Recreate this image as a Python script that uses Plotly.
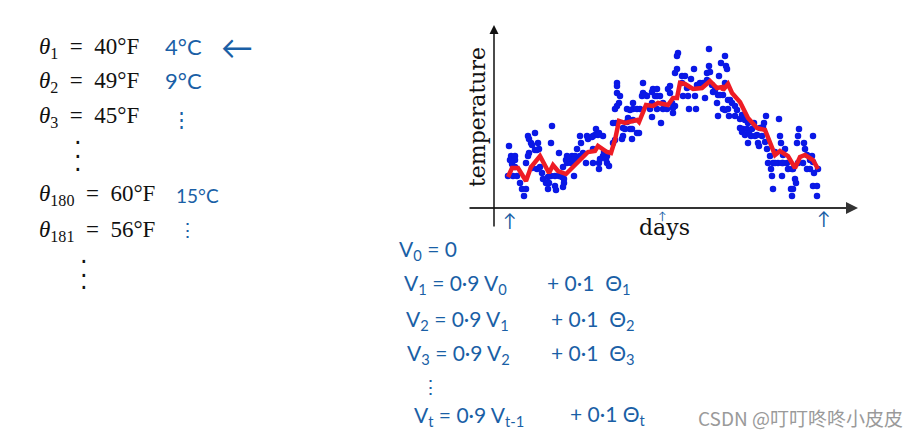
import plotly.graph_objects as go

W, H = 920, 436

# Daily readings (day, temperature) on an unlabelled scale
days = [14,16,20,15,20,17,13,18,22,25,27,31,29,33,34,36,40,43,44,40,34,33,31,37,42,47,48,51,54,53,60,61,57,56,64,56,60,64,69,69,68,79,72,77,80,72,76,82,85,86,92,93,98,101,104,108,91,98,104,104,112,114,108,112,85,98,
        122,122,122,125,124,122,120,118,121,128,127,137,130,135,142,144,138,132,138,145,148,148,147,152,158,162,160,162,175,173,175,155,157,166,162,168,178,180,
        183,182,182,180,187,190,196,199,214,230,226,231,232,214,215,224,212,165,188,193,200,194,201,178,205,208,210,222,223,228,233,234,240,245,235,240,248,252,257,259,269,271,284,253,256,263,264,260,267,272,275,273,278,283,288,292,276,277,287,278,285,286,290,304,303,302,309,318,310,293,298,300,301,296,298,297,318,322,322,312,315,319,323,317,308,247,250,230,218,223,228,
        71,82,88,100,97,103,105,111,109,20,37,42,45,53,67,68,73,78,135,142,133,138,132,128,137,118,120,150,157,157,168,172,177,
        187,192,202,212,217,220,225,233,237,230,242,247,250,253,245,254,262,265,268,270,280,288,280,287,297,303,312,315,318]
temps = [62,52,52,48,48,44,32,32,32,25,19,19,12,72,69,65,75,65,59,58,55,52,45,40,39,35,29,25,25,19,22,18,82,65,55,32,32,32,29,25,21,32,52,52,52,45,45,59,72,65,72,69,72,79,75,72,45,45,45,39,45,42,52,52,52,59,
         125,122,115,112,105,102,99,85,85,72,69,69,79,79,75,75,105,99,99,99,125,115,112,112,119,119,112,112,122,119,115,99,91,85,99,99,95,102,
         155,152,139,135,132,132,129,139,159,152,145,142,139,142,136,132,135,112,112,112,112,99,99,100,125,125,110,105,92,99,99,92,92,89,108,102,79,79,79,85,85,92,89,65,72,65,62,72,72,59,52,45,45,45,45,45,39,32,32,19,72,65,59,79,72,65,65,72,59,39,39,29,25,19,19,12,22,22,12,39,39,35,39,52,45,76,73,125,116,113,113,
         48,48,55,73,71,73,49,49,56,41,63,58,41,31,31,41,50,48,98,99,90,88,86,80,79,65,68,113,116,105,105,99,105,
         125,120,123,128,123,118,113,108,105,98,98,93,88,85,80,75,73,80,81,66,56,53,45,45,39,45,53,48,46]

# Smoothed curve
avg_days = [13,17,23,31,36,45,54,58,63,71,78,87,93,100,103,112,116,120,124,130,142,144,151,158,163,173,178,182,185,190,198,207,215,222,227,228,233,237,245,253,262,270,280,285,293,300,305,310,318,323]
avg_temps = [31,40,40,27,41,52,35,43,37,34,41,51,56,57,62,56,55,68,87,85,88,86,103,102,105,103,110,110,125,124,119,120,127,120,121,118,124,115,106,90,80,78,53,57,52,40,51,53,48,39]

x_label = "days"
y_label = "temperature"

SP = "&nbsp;"
GAP = SP * 2
# Theta list: (label, x px, y px)
theta_lines = [
    (f"<i>θ</i><sub>1</sub>{GAP}={GAP}40°F", 37, 48),
    (f"<i>θ</i><sub>2</sub>{GAP}={GAP}49°F", 37, 82),
    (f"<i>θ</i><sub>3</sub>{GAP}={GAP}45°F", 37, 117),
    (f"<i>θ</i><sub>180</sub>{GAP}={GAP}60°F", 37, 195),
    (f"<i>θ</i><sub>181</sub>{GAP}={GAP}56°F", 37, 231),
]
black_dots = [("·", 78, 143), ("·", 78, 157), ("·", 78, 170), ("·", 84, 262), ("·", 84, 276), ("·", 84, 288)]
notes = [
    ("4°C", 163, 47, 22), ("←", 219, 47, 32), ("9°C", 163, 81, 22), ("⋮", 169, 118, 21),
    ("15°C", 174, 195, 19), ("⋮", 176, 229, 19),
    ("↑", 501, 220, 18), ("↑", 656, 215, 11), ("↑", 815, 218, 18),
    ("V<sub>0</sub> = 0", 397, 250, 21),
    ("V<sub>1</sub> = 0·9 V<sub>0</sub>", 402, 284, 21), (f"+ 0·1{SP}{SP}Θ<sub>1</sub>", 545, 284, 21),
    ("V<sub>2</sub> = 0·9 V<sub>1</sub>", 404, 320, 21), (f"+ 0·1{SP}{SP}Θ<sub>2</sub>", 549, 320, 21),
    ("V<sub>3</sub> = 0·9 V<sub>2</sub>", 405, 354, 21), (f"+ 0·1{SP}{SP}Θ<sub>3</sub>", 549, 354, 21),
    ("⋮", 419, 386, 19),
    ("V<sub>t</sub> = 0·9 V<sub>t-1</sub>", 412, 416, 21), (f"+ 0·1{SP}Θ<sub>t</sub>", 568, 415, 21),
]
watermark = "CSDN @叮叮咚咚小皮皮"

px = lambda x: x / W
py = lambda y: 1 - y / H

fig = go.Figure()
fig.add_trace(go.Scatter(x=days, y=temps, mode="markers", showlegend=False,
                         marker=dict(color="#0a18e6", size=6.5, line=dict(width=0))))
fig.add_trace(go.Scatter(x=avg_days, y=avg_temps, mode="lines", showlegend=False,
                         line=dict(color="#ee1c25", width=4.5)))

def note(text, x, y, size, color, family, anchor="left"):
    fig.add_annotation(text=text, x=px(x), y=py(y), xref="paper", yref="paper", showarrow=False,
                       xanchor=anchor, yanchor="middle", font=dict(size=size, color=color, family=family))

for t, x, y in theta_lines:
    note(t, x, y, 23, "#111111", "Liberation Serif")
for t, x, y in black_dots:
    note(t, x, y, 24, "#111111", "DejaVu Sans", "center")
for t, x, y, s in notes:
    note(t, x, y, s, "#1a5fa6", "Lato")
note(x_label, 664, 227, 22, "#111111", "DejaVu Serif", "center")
fig.add_annotation(text=y_label, x=px(477), y=py(117), xref="paper", yref="paper", showarrow=False,
                   textangle=-90, xanchor="center", yanchor="middle",
                   font=dict(size=22, color="#111111", family="DejaVu Serif"))
note(watermark, 905, 417, 19, "#9a9a9a", "Noto Sans CJK SC", "right")

# Axis arrows
fig.add_annotation(x=px(858), y=py(208), ax=-390, ay=0, xref="paper", yref="paper",
                   text="", showarrow=True, arrowhead=2, arrowsize=1.2, arrowwidth=2, arrowcolor="#333333")
fig.add_annotation(x=px(494), y=py(25), ax=0, ay=203, xref="paper", yref="paper",
                   text="", showarrow=True, arrowhead=2, arrowsize=1.2, arrowwidth=1.5, arrowcolor="#111111")

fig.update_layout(
    width=W, height=H, margin=dict(l=0, r=0, t=0, b=0),
    paper_bgcolor="white", plot_bgcolor="white", showlegend=False,
    xaxis=dict(domain=[495 / W, 858 / W], range=[0, 363], visible=False),
    yaxis=dict(domain=[1 - 208 / H, 1 - 25 / H], range=[0, 183], visible=False),
)
fig.write_html("out.html", config={"displayModeBar": False}, post_script="document.body.style.margin='0';")
